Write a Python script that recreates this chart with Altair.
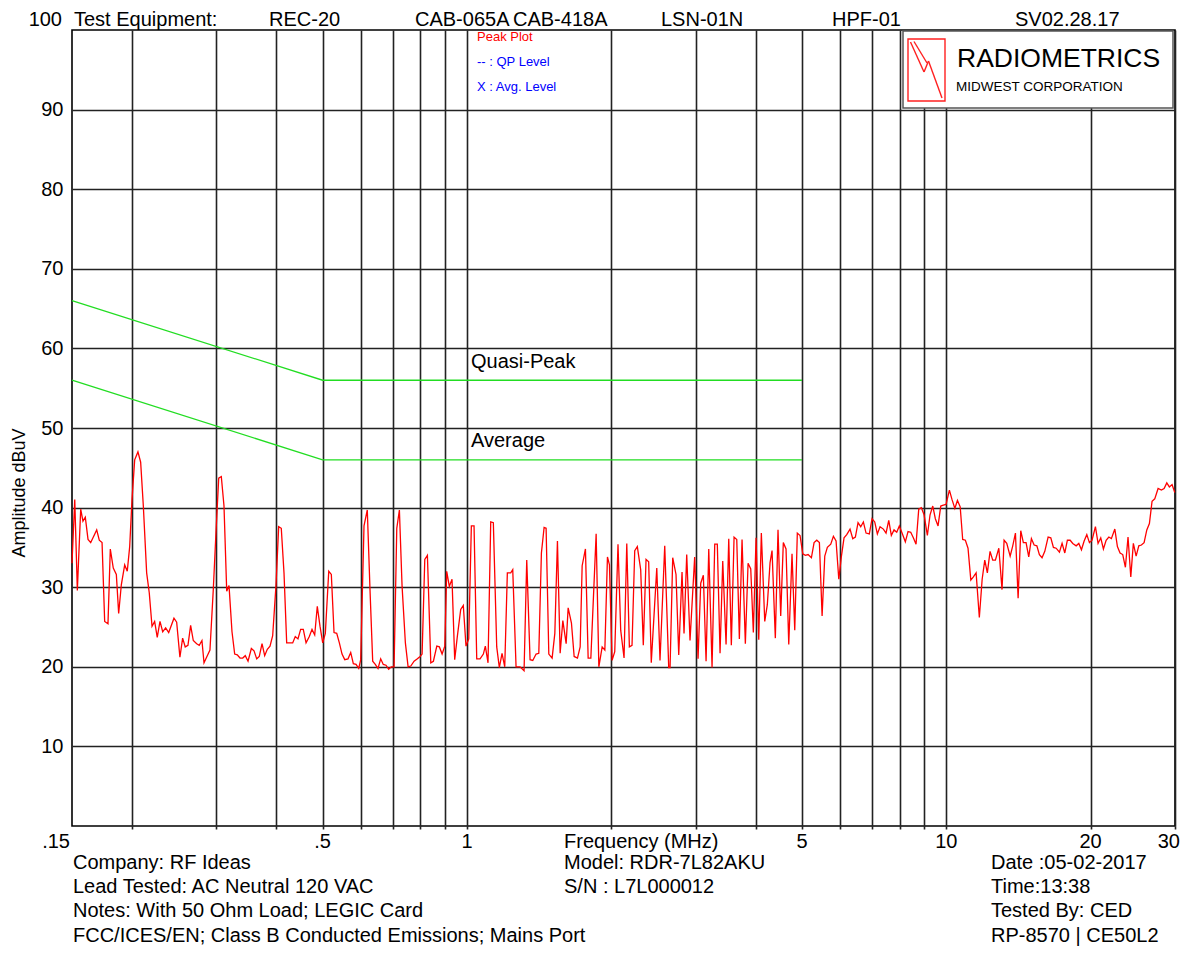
import altair as alt
import pandas as pd

# ---------------- data ----------------
# Peak trace, 0.15 - 1 MHz
freq_low = [
    0.150, 0.1520, 0.1539, 0.1564, 0.1581, 0.1599, 0.1620, 0.1641, 0.1662, 0.1689,
    0.1710, 0.1733, 0.1755, 0.1783, 0.1803, 0.1829, 0.1856, 0.1877, 0.1901, 0.1932,
    0.1956, 0.1979, 0.2001, 0.2027, 0.2059, 0.2086, 0.2113, 0.2147, 0.2174, 0.2203,
    0.2231, 0.2259, 0.2289, 0.2319, 0.2352, 0.2387, 0.2448, 0.2480, 0.2519, 0.2552,
    0.2584, 0.2618, 0.2652, 0.2686, 0.2730, 0.2764, 0.2800, 0.2828, 0.2873, 0.2910,
    0.2957, 0.2996, 0.3035, 0.3073, 0.3113, 0.3154, 0.3189, 0.3235, 0.3277, 0.3318,
    0.3362, 0.3406, 0.3448, 0.3494, 0.3550, 0.3596, 0.3643, 0.3688, 0.3737, 0.3785,
    0.3833, 0.3883, 0.3933, 0.3996, 0.4048, 0.4099, 0.4153, 0.4207, 0.4260, 0.4330,
    0.4384, 0.4441, 0.4499, 0.4556, 0.4617, 0.4690, 0.4751, 0.4813, 0.4873, 0.4937,
    0.5002, 0.5065, 0.5149, 0.5213, 0.5281, 0.5350, 0.5418, 0.5488, 0.5560, 0.5648,
    0.5722, 0.5794, 0.5870, 0.5946, 0.6003, 0.6099, 0.6196, 0.6277, 0.6359, 0.6439,
    0.6523, 0.6608, 0.6691, 0.6778, 0.6866, 0.6953, 0.7047, 0.7139, 0.7229, 0.7323,
    0.7440, 0.7538, 0.7636, 0.7758, 0.7882, 0.7985, 0.8062, 0.8167, 0.8270, 0.8406,
    0.8512, 0.8652, 0.8760, 0.8875, 0.8991, 0.9074, 0.9188, 0.9308, 0.9429, 0.9548,
]
level_low = [
    33.0, 41.0, 29.6, 39.8, 38.3, 38.8, 36.0, 35.6, 36.3, 37.2,
    35.9, 35.6, 25.7, 25.4, 34.8, 32.4, 31.6, 26.7, 30.3, 32.8,
    32.0, 35.1, 41.0, 46.0, 47.0, 45.7, 40.2, 31.8, 29.3, 25.1,
    25.7, 23.7, 25.7, 24.4, 24.9, 24.3, 26.1, 25.6, 21.2, 23.6,
    22.5, 22.7, 25.2, 23.3, 22.9, 22.7, 23.3, 20.5, 21.4, 22.1,
    29.7, 37.0, 43.7, 43.9, 40.2, 29.5, 30.2, 24.4, 21.6, 21.5,
    21.1, 21.1, 21.4, 20.7, 22.3, 22.0, 21.0, 21.3, 22.9, 21.4,
    22.2, 22.6, 23.9, 30.2, 37.6, 37.4, 31.8, 23.0, 23.0, 23.0,
    23.8, 23.5, 24.7, 24.7, 23.0, 23.8, 24.7, 24.0, 27.6, 25.1,
    23.0, 24.2, 32.0, 31.6, 24.3, 24.2, 23.0, 21.6, 20.9, 21.0,
    21.8, 20.4, 20.3, 19.8, 20.9, 37.7, 39.7, 29.7, 20.7, 20.3,
    19.8, 21.0, 20.3, 20.2, 19.7, 20.0, 20.0, 37.4, 39.7, 30.1,
    23.0, 20.0, 20.1, 20.7, 21.0, 21.3, 21.6, 33.5, 34.0, 20.5,
    20.7, 22.6, 22.5, 21.6, 22.6, 32.0, 30.1, 31.0, 20.9, 23.8,
]

# Peak trace, 1 - 5 MHz
freq_mid = [
    0.9705, 0.9827, 0.9955, 1.0087, 1.0214, 1.0347, 1.0482, 1.0650, 1.0820, 1.0924,
    1.1066, 1.1210, 1.1352, 1.1538, 1.1684, 1.1836, 1.1991, 1.2142, 1.2341, 1.2461,
    1.2661, 1.2906, 1.3157, 1.3328, 1.3542, 1.3719, 1.3940, 1.4122, 1.4300, 1.4487,
    1.4627, 1.4818, 1.5056, 1.5253, 1.5445, 1.5647, 1.5851, 1.6105, 1.6261, 1.6520,
    1.6736, 1.7004, 1.7226, 1.7392, 1.7669, 1.7900, 1.8134, 1.8601, 1.8844, 1.9146,
    1.9395, 1.9639, 1.9829, 2.008, 2.034, 2.066, 2.093, 2.127, 2.155, 2.182,
    2.210, 2.239, 2.267, 2.304, 2.333, 2.364, 2.394, 2.424, 2.489, 2.528,
    2.586, 2.636, 2.653, 2.687, 2.730, 2.766, 2.810, 2.837, 2.874, 2.920,
    2.986, 3.035, 3.074, 3.113, 3.154, 3.195, 3.246, 3.288, 3.329, 3.373,
    3.417, 3.472, 3.517, 3.561, 3.608, 3.655, 3.701, 3.749, 3.809, 3.859,
    3.909, 3.958, 4.010, 4.062, 4.113, 4.181, 4.233, 4.289, 4.330, 4.399,
    4.456, 4.514, 4.571, 4.631, 4.692, 4.766, 4.829, 4.889, 4.953, 5.019,
]
level_mid = [
    27.2, 27.7, 22.6, 23.5, 37.7, 37.7, 21.0, 21.0, 21.6, 22.6,
    20.5, 38.2, 38.1, 22.5, 19.9, 21.7, 20.0, 31.8, 31.8, 32.2,
    20.0, 20.0, 19.5, 33.4, 20.9, 20.8, 21.6, 21.7, 34.3, 37.5,
    37.4, 21.6, 21.1, 24.2, 35.8, 21.7, 25.8, 22.9, 27.4, 25.5,
    21.3, 21.1, 22.5, 32.7, 34.8, 21.1, 21.1, 36.7, 20.0, 22.5,
    22.1, 33.8, 32.8, 20.8, 21.9, 35.4, 24.6, 21.1, 35.5, 22.5,
    22.7, 34.6, 35.1, 32.2, 22.7, 33.5, 33.2, 20.5, 32.4, 20.8,
    35.2, 19.9, 19.9, 33.7, 31.6, 21.5, 31.9, 24.2, 34.1, 23.3,
    33.8, 21.0, 30.5, 31.5, 20.7, 34.8, 19.9, 35.4, 35.4, 21.7,
    33.3, 22.8, 36.1, 22.7, 36.3, 36.0, 23.5, 36.0, 22.9, 33.0,
    32.3, 24.3, 36.2, 23.4, 36.8, 25.7, 27.8, 33.1, 34.6, 23.6,
    37.2, 26.4, 35.6, 34.8, 22.8, 34.2, 24.6, 36.8, 36.5, 34.2,
]

# Peak trace, 5 - 30 MHz
freq_high = [
    5.082, 5.149, 5.231, 5.299, 5.368, 5.436, 5.507, 5.578, 5.648, 5.741,
    5.814, 5.889, 5.967, 6.040, 6.119, 6.199, 6.298, 6.381, 6.461, 6.545,
    6.630, 6.714, 6.801, 6.909, 7.000, 7.091, 7.181, 7.274, 7.391, 7.487,
    7.585, 7.680, 7.780, 7.882, 7.980, 8.085, 8.214, 8.321, 8.430, 8.536,
    8.647, 8.760, 8.870, 8.987, 9.131, 9.250, 9.371, 9.488, 9.612, 9.738,
    9.860, 9.988, 10.15, 10.28, 10.42, 10.55, 10.69, 10.82, 10.96, 11.10,
    11.25, 11.39, 11.54, 11.72, 11.88, 12.03, 12.18, 12.34, 12.50, 12.66,
    12.87, 13.07, 13.20, 13.37, 13.59, 13.76, 13.94, 14.12, 14.30, 14.48,
    14.67, 14.86, 15.05, 15.25, 15.45, 15.64, 15.84, 16.05, 16.31, 16.52,
    16.73, 16.95, 17.22, 17.44, 17.67, 17.89, 18.13, 18.36, 18.66, 18.90,
    19.14, 19.39, 19.64, 19.89, 20.14, 20.47, 20.73, 21.00, 21.27, 21.55,
    21.83, 22.10, 22.47, 22.75, 23.04, 23.34, 23.64, 23.94, 24.26, 24.56,
    24.89, 25.21, 25.53, 25.86, 26.20, 26.53, 26.87, 27.22, 27.66, 28.10,
    28.47, 28.84, 29.20, 29.58, 29.97,
]
level_high = [
    34.0, 34.1, 33.7, 35.6, 35.9, 35.6, 26.4, 33.9, 35.0, 35.4,
    36.4, 35.8, 31.0, 33.8, 36.2, 36.6, 37.3, 36.1, 36.3, 38.1,
    37.6, 38.2, 36.8, 36.7, 38.6, 38.2, 36.7, 37.6, 37.3, 36.8,
    38.4, 36.5, 37.2, 36.9, 37.7, 36.8, 35.7, 37.0, 36.9, 36.2,
    35.4, 39.8, 40.0, 39.1, 36.5, 39.1, 40.2, 38.6, 37.7, 40.2,
    40.3, 40.4, 42.2, 41.0, 39.9, 40.9, 40.1, 36.0, 35.9, 34.9,
    30.9, 31.3, 31.8, 26.2, 31.0, 33.4, 31.8, 34.5, 33.4, 33.4,
    34.9, 29.7, 35.9, 35.5, 33.9, 35.2, 36.8, 28.6, 37.1, 35.6,
    35.6, 33.8, 36.1, 35.3, 35.2, 34.1, 33.7, 34.5, 36.3, 36.2,
    35.0, 34.9, 34.4, 35.5, 34.3, 35.9, 35.9, 35.5, 35.2, 35.5,
    34.7, 35.8, 36.6, 35.6, 35.9, 37.6, 35.5, 36.2, 34.8, 35.9,
    36.3, 36.1, 37.3, 35.1, 34.3, 34.1, 32.5, 36.3, 31.3, 35.5,
    33.9, 35.2, 35.3, 35.6, 37.2, 38.0, 40.8, 41.1, 42.4, 42.2,
    42.4, 43.1, 42.6, 42.9, 41.9,
]

# Limit lines (Class B conducted)
qp_freq = [0.15, 0.5, 5.0]
qp_limit = [66, 56, 56]
avg_freq = [0.15, 0.5, 5.0]
avg_limit = [56, 46, 46]

# Axis / grid values
grid_freqs = [0.2, 0.3, 0.4, 0.5, 0.6, 0.7, 0.8, 0.9, 1, 2, 3, 4, 5, 6, 7, 8, 9, 10, 20, 30]
grid_levels = [10, 20, 30, 40, 50, 60, 70, 80, 90]
x_label_freqs = [0.5, 1, 5, 10, 20]
x_label_texts = [".5", "1", "5", "10", "20"]

# Header texts
header_items = ["Test Equipment:", "REC-20", "CAB-065A", "CAB-418A", "LSN-01N", "HPF-01", "SV02.28.17"]

# ---------------- chart ----------------
assert len(freq_low) == len(level_low)
assert len(freq_mid) == len(level_mid)
assert len(freq_high) == len(level_high)

FONT = "Liberation Sans"
FS = 20
W, H = 1103, 796
GRID = "#222222"

trace_df = pd.DataFrame({
    "f": freq_low + freq_mid + freq_high,
    "db": level_low + level_mid + level_high,
})
limits_df = pd.DataFrame({
    "f": qp_freq + avg_freq,
    "db": qp_limit + avg_limit,
    "lim": ["Quasi-Peak"] * len(qp_freq) + ["Average"] * len(avg_freq),
})
xlab_df = pd.DataFrame({"f": x_label_freqs, "t": x_label_texts})
first_df = pd.DataFrame({"f": [0.15], "t": [".15"]})
last_df = pd.DataFrame({"f": [30], "t": ["30"]})

xscale = alt.Scale(type="log", domain=[0.15, 30], nice=False)
yscale = alt.Scale(domain=[0, 100], nice=False, zero=False)

x_axis = alt.Axis(values=grid_freqs, labels=False, title=None, grid=True,
                  gridColor=GRID, gridWidth=1.6, domain=False,
                  ticks=True, tickSize=3, tickColor=GRID, tickWidth=1.6)
y_axis = alt.Axis(values=grid_levels, title=None, grid=True,
                  gridColor=GRID, gridWidth=1.6, domain=False, ticks=False,
                  labelPadding=9, labelFont=FONT, labelFontSize=FS,
                  labelColor="black")

X = alt.X("f:Q", scale=xscale, axis=x_axis)
Y = alt.Y("db:Q", scale=yscale, axis=y_axis)

trace = alt.Chart(trace_df).mark_line(color="#ff0000", strokeWidth=1.3).encode(
    x=X, y=Y, order=alt.Order("f:Q"),
)

limits = alt.Chart(limits_df).mark_line(color="#22dd22", strokeWidth=1.3).encode(
    x=X, y=Y, detail="lim:N",
)

xlabels = alt.Chart(xlab_df).mark_text(
    font=FONT, fontSize=FS, color="black", align="center", baseline="alphabetic"
).encode(x=X, y=alt.value(818), text="t:N")
xfirst = alt.Chart(first_df).mark_text(
    font=FONT, fontSize=FS, color="black", align="right", baseline="alphabetic", dx=-2
).encode(x=X, y=alt.value(818), text="t:N")
xlast = alt.Chart(last_df).mark_text(
    font=FONT, fontSize=FS, color="black", align="right", baseline="alphabetic", dx=5
).encode(x=X, y=alt.value(818), text="t:N")

one = pd.DataFrame({"k": [0]})


def txt(s, x, y, size=FS, color="black", align="left", baseline="alphabetic", angle=0):
    kw = dict(text=s, font=FONT, fontSize=size, color=color, align=align, baseline=baseline)
    if angle:
        kw["angle"] = angle
    return alt.Chart(one).mark_text(**kw).encode(x=alt.value(x), y=alt.value(y))


def seg(x1, y1, x2, y2, color="#ff2020", width=1.4):
    return alt.Chart(one).mark_rule(color=color, strokeWidth=width).encode(
        x=alt.value(x1), y=alt.value(y1), x2=alt.value(x2), y2=alt.value(y2))


header_x = [2, 197, 343, 441, 589, 760, 943]
header = [txt(s, x, -4) for s, x in zip(header_items, header_x)]

legend = [
    txt("Peak Plot", 405, 11, size=13, color="#ff0000"),
    txt("-- : QP Level", 405, 36, size=13, color="#0000ff"),
    txt("X : Avg. Level", 405, 61, size=13, color="#0000ff"),
]

limit_labels = [
    txt("Quasi-Peak", 399, 338),
    txt("Average", 399, 417),
]

y_extra = [
    txt("100", -10, -10, baseline="middle", align="right"),
    txt("Amplitude dBuV", -52, 463, size=18, align="center", baseline="middle", angle=270),
]

footer = [
    txt("Frequency (MHz)", 492, 818),
    txt("Company: RF Ideas", 1, 839),
    txt("Lead Tested: AC Neutral 120 VAC", 1, 863),
    txt("Notes: With 50 Ohm Load; LEGIC Card", 1, 887),
    txt("FCC/ICES/EN; Class B Conducted Emissions; Mains Port", 1, 912),
    txt("Model: RDR-7L82AKU", 492, 839),
    txt("S/N : L7L000012", 492, 863),
    txt("Date :05-02-2017", 919, 839),
    txt("Time:13:38", 919, 863),
    txt("Tested By: CED", 919, 887),
    txt("RP-8570 | CE50L2", 919, 912),
]

logo_box = alt.Chart(one).mark_rect(fill="white", stroke="#555555", strokeWidth=1.5).encode(
    x=alt.value(831), x2=alt.value(1101), y=alt.value(1), y2=alt.value(78))
logo_red = alt.Chart(one).mark_rect(fill="white", stroke="#ff2020", strokeWidth=1.4).encode(
    x=alt.value(836), x2=alt.value(873), y=alt.value(9), y2=alt.value(71))
bolt = [
    seg(838.5, 12, 852, 42),
    seg(852, 42, 856.5, 31),
    seg(856.5, 31, 870, 68),
    seg(842, 11.5, 855, 33),
]
logo_text = [
    txt("RADIOMETRICS", 885, 37, size=26.5),
    txt("MIDWEST CORPORATION", 884, 61, size=13.5),
]

chart = alt.layer(
    trace, limits, xlabels, xfirst, xlast,
    *header, *legend, *limit_labels, *y_extra, *footer,
    logo_box, logo_red, *bolt, *logo_text,
).properties(
    width=W, height=H,
    padding={"left": 64, "top": 22, "right": 6, "bottom": 120},
    autosize=alt.AutoSizeParams(type="none"),
    background="white",
).configure_view(
    stroke="#000000", strokeWidth=1.6,
)

chart.save("out.html", embed_options={"renderer": "svg", "actions": False})
